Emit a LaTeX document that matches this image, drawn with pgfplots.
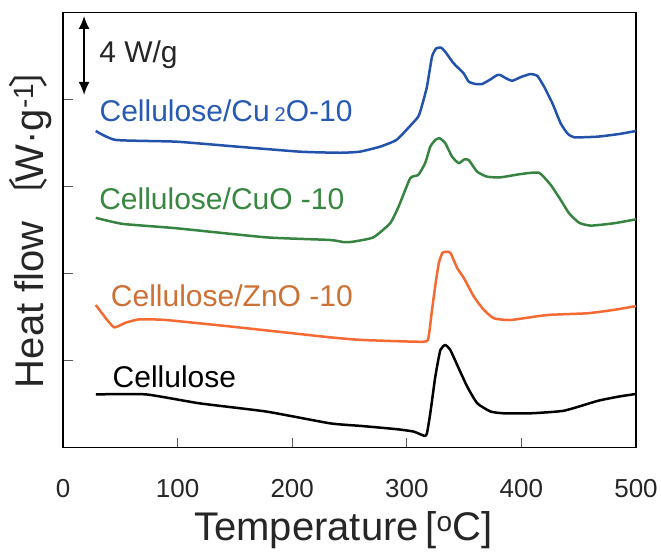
\documentclass[border=0pt]{standalone}
\usepackage{pgfplots}
\pgfplotsset{compat=1.18}
\usepackage{fontspec}
\setmainfont{Liberation Sans}
\newfontfamily\cjk{Noto Sans CJK JP}
\usetikzlibrary{arrows.meta}
\definecolor{cblue}{RGB}{35,82,170}
\definecolor{cgreen}{RGB}{55,132,66}
\definecolor{corange}{RGB}{245,105,50}
\definecolor{corangetxt}{RGB}{205,112,52}
\definecolor{cbluetxt}{RGB}{40,90,180}
\definecolor{cgreentxt}{RGB}{55,135,65}

\pgfplotstableread{
T y
28.6 14.56
46 14.15
98.7 14.07
150 13.85
206.7 13.61
241.7 13.56
259 13.61
276.7 13.84
291 14.15
303 14.8
310 15.22
313 15.68
317.6 16.6
322 17.98
325.7 18.36
330 18.39
333.6 18.2
340.9 17.67
349.6 17.21
354 16.83
360 16.72
365.7 16.72
372 16.9
378.8 17.13
381.8 17.13
386 17.0
392 16.87
400 17.05
408 17.18
414 17.09
419.8 16.6
427.1 15.83
434.3 14.91
440.2 14.45
446 14.27
466.4 14.3
485 14.42
500 14.56
}\cutwo

\pgfplotstableread{
T y
28.6 10.57
52 10.29
98.7 10.09
177.5 9.67
233 9.55
245 9.45
253 9.47
270.8 9.67
285.5 10.32
292.8 11.08
303 12.39
310 12.54
316 13.08
320.5 13.84
324.9 14.15
328.6 14.23
333.6 14.0
339.5 13.38
345.3 13.08
350 13.25
354 13.23
361.4 12.69
370.1 12.46
381.8 12.43
399.3 12.58
415.3 12.64
425.6 12.08
434.3 11.39
441.6 10.78
450.4 10.34
460.6 10.21
481 10.32
500 10.5
}\cuo

\pgfplotstableread{
T y
28.6 6.56
37.4 5.95
44.7 5.53
54.9 5.75
66.5 5.9
89.9 5.87
148.2 5.56
221.3 5.14
241.7 5.03
262.2 4.95
314.6 4.87
319 5.1
322 6.33
325 7.5
328 8.5
331 8.95
333.6 9.01
336 9.0
338.3 8.94
344.1 8.25
349.9 7.79
358.6 6.94
367 6.35
376 5.95
390.5 5.87
422.6 6.1
457.7 6.18
480 6.33
500 6.51
}\zno

\pgfplotstableread{
T y
28.6 2.45
72.4 2.45
119 2.04
177.5 1.66
233 1.12
260 1.0
291.3 0.85
306 0.74
315.5 0.54
317.6 0.66
320.5 1.58
324.9 3.27
329.3 4.49
333.6 4.72
338 4.49
344 3.80
352.8 2.8
361.5 2.04
373.2 1.66
384.8 1.58
408 1.58
437.2 1.70
466.4 2.15
485 2.35
500 2.47
}\cell

\begin{document}
\begin{tikzpicture}
\begin{axis}[
  scale only axis,
  width=573pt, height=435pt,
  xmin=0, xmax=500, ymin=0, ymax=20,
  xtick={0,100,...,500},
  ytick={4,8,12,16},
  yticklabels={},
  tick pos=left,
  tick align=inside,
  major tick length=10pt,
  tick style={line width=1pt, color=black!65},
  axis line style={line width=1.2pt},
  /pgf/number format/assume math mode=true,
  ticklabel style={font=\fontsize{26}{30}\selectfont, text=black!85},
  xticklabel style={yshift=-28pt},
  xlabel={Temperature\,[\textsuperscript{o}C]},
  xlabel style={at={(axis description cs:0.5,0)}, anchor=north, yshift=-60pt, xshift=-6pt, font=\fontsize{40}{46}\selectfont, text=black!85},
  ylabel={Heat flow\kern0.1em{\cjk 〔}\kern-0.12em W·g\textsuperscript{-1}\kern-0.12em{\cjk 〕}},
  ylabel style={at={(axis description cs:0,0.5)}, anchor=center, xshift=12pt, yshift=33pt, font=\fontsize{40}{46}\selectfont, text=black!85},
  every axis plot/.append style={line width=2.5pt, line join=round, smooth, tension=0.3},
]
\addplot[cblue] table[x=T,y=y] {\cutwo};
\addplot[cgreen] table[x=T,y=y] {\cuo};
\addplot[corange] table[x=T,y=y] {\zno};
\addplot[black] table[x=T,y=y] {\cell};

\node[anchor=base west, font=\fontsize{30}{34}\selectfont, text=cbluetxt] at (axis cs:28.9,14.99) {Cellulose/Cu\,{\fontsize{20}{24}\selectfont 2}O-10};
\node[anchor=base west, font=\fontsize{30}{34}\selectfont, text=cgreentxt] at (axis cs:28.6,10.93) {Cellulose/CuO -10};
\node[anchor=base west, font=\fontsize{30}{34}\selectfont, text=corangetxt] at (axis cs:38.8,6.48) {Cellulose/ZnO -10};
\node[anchor=base west, font=\fontsize{30}{34}\selectfont, text=black] at (axis cs:40.3,2.78) {Cellulose};

\draw[line width=1.6pt, {Latex[length=13pt,width=11pt]}-{Latex[length=13pt,width=11pt]}] (axis cs:18.4,19.85) -- (axis cs:18.4,16.22);
\node[anchor=base west, font=\fontsize{30}{34}\selectfont, text=black!85] at (axis cs:28.6,17.71) {4 W/g};
\end{axis}
\path ([xshift=-63pt,yshift=-110.3pt]current axis.south west) rectangle ([xshift=25pt,yshift=12.7pt]current axis.north east);
\end{tikzpicture}
\end{document}
